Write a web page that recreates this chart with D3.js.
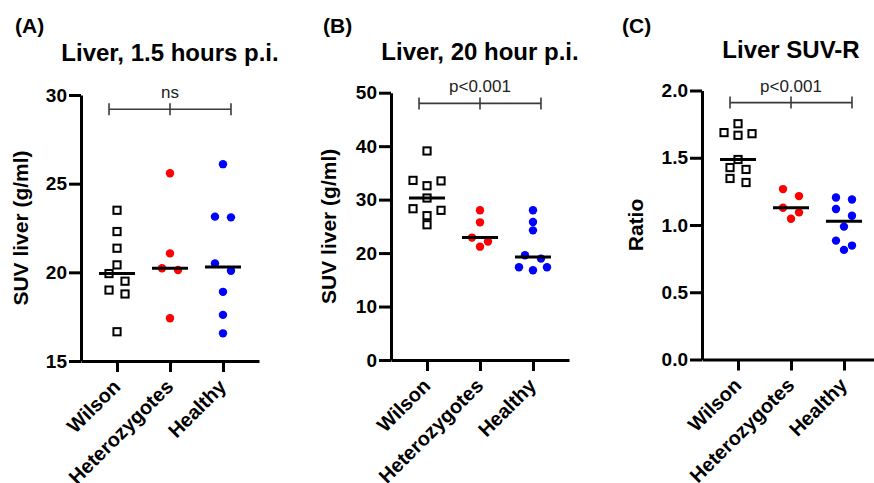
<!DOCTYPE html>
<meta charset="utf-8">
<script src="https://d3js.org/d3.v7.min.js"></script>
<style>
  body { margin: 0; background: #fff; }
  text { font-family: Arial, "Liberation Sans", sans-serif; }
</style>
<body>
<script>

// groups on the x axis
var categories = ["Wilson", "Heterozygotes", "Healthy"];

// (A) liver SUV 1.5 h p.i.
var wilsonA  = [23.5, 22.3, 21.36, 20.42, 19.93, 19.5, 19.0, 18.78, 16.65];
var hetA     = [25.59, 21.07, 20.23, 20.13, 17.41];
var healthyA = [26.1, 23.14, 23.1, 20.5, 20.09, 18.9, 17.6, 16.56];

// (B) liver SUV 20 h p.i.
var wilsonB  = [39.1, 33.6, 33.5, 32.6, 30.3, 28.3, 28.0, 27.0, 25.3];
var hetB     = [28.0, 25.75, 22.9, 22.15, 21.2];
var healthyB = [28.0, 25.8, 24.25, 19.6, 18.97, 17.35, 17.35, 16.8];

// (C) liver SUV-R
var wilsonC  = [1.753, 1.687, 1.679, 1.667, 1.487, 1.427, 1.413, 1.346, 1.316];
var hetC     = [1.267, 1.215, 1.128, 1.094, 1.047];
var healthyC = [1.205, 1.19, 1.119, 1.069, 0.988, 0.884, 0.847, 0.815];

var ticksA = [15, 20, 25, 30];
var ticksB = [0, 10, 20, 30, 40, 50];
var ticksC = [0, 0.5, 1.0, 1.5, 2.0];

var panelLabels = ["(A)", "(B)", "(C)"];
var titles = ["Liver, 1.5 hours p.i.", "Liver, 20 hour p.i.", "Liver SUV-R"];
var yTitles = ["SUV liver (g/ml)", "SUV liver (g/ml)", "Ratio"];
var sigLabels = ["ns", "p<0.001", "p<0.001"];
var sigLevels = [29.2, 48, 1.91];

// layout of the three panels
var panels = [
  {left: 81,    top: 95,   bottom: 361,   labelX: 15,  titleY: 61, yTitleX: 28,
   domain: [15, 30], ticks: ticksA, fmt: d3.format("d"), groups: [wilsonA, hetA, healthyA]},
  {left: 391,   top: 92.7, bottom: 360,   labelX: 323, titleY: 60, yTitleX: 336,
   domain: [0, 50], ticks: ticksB, fmt: d3.format("d"), groups: [wilsonB, hetB, healthyB]},
  {left: 702,   top: 90.5, bottom: 359.5, labelX: 622, titleY: 58, yTitleX: 643,
   domain: [0, 2], ticks: ticksC, fmt: d3.format(".1f"), groups: [wilsonC, hetC, healthyC]}
];
var plotW = 178;
var colors = ["#000", "#ff0000", "#0000ff"];

var svg = d3.select("body").append("svg")
    .attr("width", 874)
    .attr("height", 483);

// spread points that sit close together, the way the scatter dot plot does
function swarm(vals, y) {
  var pts = vals.map(function(v) { return {v: v, py: y(v)}; })
    .sort(function(a, b) { return a.py - b.py; });
  var i = 0;
  while (i < pts.length) {
    var j = i + 1;
    while (j < pts.length && pts[j].py - pts[i].py < 8 && j - i < 3) j++;
    var n = j - i;
    var offs = n == 1 ? [0] : n == 2 ? [-8, 8] : [-14, 14, 0];
    for (var k = i; k < j; k++) pts[k].dx = offs[k - i];
    i = j;
  }
  return pts;
}

panels.forEach(function(p, pi) {
  var g = svg.append("g").attr("transform", "translate(" + p.left + ",0)");

  var x = d3.scalePoint()
    .domain(categories)
    .range([0, plotW])
    .padding(0.68);

  var y = d3.scaleLinear()
    .domain(p.domain)
    .range([p.bottom, p.top]);

  // panel letter and title
  svg.append("text")
    .attr("x", p.labelX)
    .attr("y", 33)
    .style("font-size", "21px")
    .style("font-weight", "bold")
    .text(panelLabels[pi]);

  g.append("text")
    .attr("x", plotW / 2)
    .attr("y", p.titleY)
    .attr("text-anchor", "middle")
    .style("font-size", "24px")
    .style("font-weight", "bold")
    .text(titles[pi]);

  // y axis
  var yAxis = g.append("g")
    .call(d3.axisLeft(y).tickValues(p.ticks).tickFormat(p.fmt)
      .tickSize(12).tickSizeOuter(0).tickPadding(2));
  yAxis.selectAll("text")
    .style("font-size", "19px")
    .style("font-weight", "bold")
    .attr("fill", "#000");

  // x axis
  var xAxis = g.append("g")
    .attr("transform", "translate(0," + p.bottom + ")")
    .call(d3.axisBottom(x).tickSize(11).tickSizeOuter(0));
  xAxis.selectAll("text")
    .attr("x", 0).attr("y", 0).attr("dy", 0)
    .attr("transform", "translate(4,27) rotate(-45)")
    .style("text-anchor", "end")
    .style("font-size", "20px")
    .style("font-weight", "bold")
    .attr("fill", "#000");

  g.selectAll(".domain, .tick line")
    .attr("stroke", "#000")
    .attr("stroke-width", 3);

  // y title
  svg.append("text")
    .attr("transform", "translate(" + p.yTitleX + "," + ((p.top + p.bottom) / 2) + ") rotate(-90)")
    .attr("text-anchor", "middle")
    .style("font-size", "21px")
    .style("font-weight", "bold")
    .text(yTitles[pi]);

  // points
  p.groups.forEach(function(vals, gi) {
    var cx = x(categories[gi]);
    var pts = swarm(vals, y);
    if (gi == 0) {
      g.selectAll(".sq" + gi).data(pts).enter().append("rect")
        .attr("x", function(d) { return cx + d.dx - 3.6; })
        .attr("y", function(d) { return d.py - 3.6; })
        .attr("width", 7.2)
        .attr("height", 7.2)
        .attr("fill", "#fff")
        .attr("stroke", "#000")
        .attr("stroke-width", 2);
    } else {
      g.selectAll(".dot" + gi).data(pts).enter().append("circle")
        .attr("cx", function(d) { return cx + d.dx; })
        .attr("cy", function(d) { return d.py; })
        .attr("r", 4.2)
        .attr("fill", colors[gi]);
    }
    // median line
    var m = d3.median(vals);
    g.append("line")
      .attr("x1", cx - 18).attr("x2", cx + 18)
      .attr("y1", y(m)).attr("y2", y(m))
      .attr("stroke", "#000")
      .attr("stroke-width", 3);
  });

  // significance bracket
  var by = y(sigLevels[pi]);
  var x0 = x(categories[0]) - 8, x1 = x(categories[2]) + 8, xm = x(categories[1]);
  var br = g.append("g").attr("stroke", "#3a3a3a").attr("stroke-width", 1.6);
  br.append("line").attr("x1", x0).attr("x2", x1).attr("y1", by).attr("y2", by);
  [x0, xm, x1].forEach(function(xx) {
    br.append("line").attr("x1", xx).attr("x2", xx).attr("y1", by - 6).attr("y2", by + 6);
  });
  g.append("text")
    .attr("x", xm)
    .attr("y", by - 11)
    .attr("text-anchor", "middle")
    .style("font-size", "17px")
    .attr("fill", "#222")
    .text(sigLabels[pi]);
});

</script>
</body>
</html>
